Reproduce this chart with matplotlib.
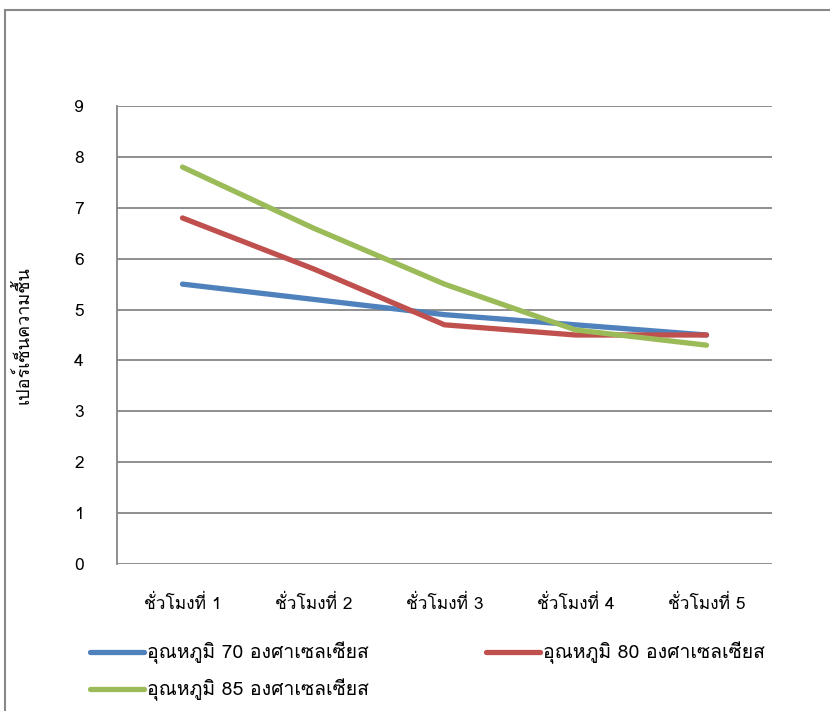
import matplotlib
matplotlib.use("Agg")
import matplotlib.pyplot as plt
from matplotlib import font_manager
from matplotlib.ft2font import FT2Font
from matplotlib.lines import Line2D
from matplotlib.patches import Rectangle

# ---- data ----
categories = ["ชั่วโมงที่ 1", "ชั่วโมงที่ 2", "ชั่วโมงที่ 3", "ชั่วโมงที่ 4", "ชั่วโมงที่ 5"]
series_names = ["อุณหภูมิ 70 องศาเซลเซียส", "อุณหภูมิ 80 องศาเซลเซียส", "อุณหภูมิ 85 องศาเซลเซียส"]
temp70 = [5.5, 5.2, 4.9, 4.7, 4.5]
temp80 = [6.8, 5.8, 4.7, 4.5, 4.5]
temp85 = [7.8, 6.6, 5.5, 4.6, 4.3]
y_ticks = [0, 1, 2, 3, 4, 5, 6, 7, 8, 9]
y_label = "เปอร์เซ็นความชื้น"

# ---- find a font with Thai glyphs ----
thai_font = None
preferred = []
for fe in font_manager.fontManager.ttflist:
    try:
        cmap = FT2Font(fe.fname).get_charmap()
    except Exception:
        continue
    if 0x0E2D in cmap and 0x0E0A in cmap:
        preferred.append(fe.name)
if preferred:
    thai_font = preferred[0]
families = ([thai_font] if thai_font else []) + ["DejaVu Sans"]
plt.rcParams['font.family'] = families

W, H = 830, 711
fig = plt.figure(figsize=(W / 100, H / 100), dpi=100)

# outer border
fig.patches.append(Rectangle((5 / W, -0.05), 1.0, 1 - 10 / H + 0.05, transform=fig.transFigure,
                             fill=False, edgecolor="#888888", linewidth=1.5))

ax = fig.add_axes([117 / W, (H - 564) / H, (772 - 117) / W, (564 - 106) / H])
x = list(range(len(categories)))
colors = ["#4F81BD", "#C0504D", "#9BBB59"]
for vals, c, name in zip([temp70, temp80, temp85], colors, series_names):
    ax.plot(x, vals, color=c, linewidth=3.8, solid_capstyle="round", label=name)

ax.set_xlim(-0.5, len(categories) - 0.5)
ax.set_ylim(0, 9)
ax.set_yticks(y_ticks)
ax.set_xticks(x)
ax.set_xticklabels(categories)
ax.yaxis.grid(True, color="#868686", linewidth=1.3)
ax.set_axisbelow(True)
for s in ["top", "right", "bottom"]:
    ax.spines[s].set_visible(False)
ax.spines["left"].set_color("#868686")
ax.spines["left"].set_linewidth(1.3)
ax.tick_params(axis="both", length=0, labelsize=12.5, colors="black")
ax.tick_params(axis="y", pad=24)
ax.tick_params(axis="x", pad=22)
ax.set_ylabel(y_label, fontsize=13, labelpad=30)

handles = [Line2D([], [], color=c, linewidth=3.8, solid_capstyle="round") for c in colors]
order = [0, 2, 1]  # row-wise fill: row1 = 70, 80 ; row2 = 85
fig.legend([handles[i] for i in order], [series_names[i] for i in order],
           loc="upper left", bbox_to_anchor=(80 / W, 1 - 632 / H),
           ncol=2, frameon=False, fontsize=14, handlelength=2.8, handletextpad=0.15,
           columnspacing=6.0, labelspacing=0.75, borderpad=0)

fig.savefig("out.png", dpi=100)
